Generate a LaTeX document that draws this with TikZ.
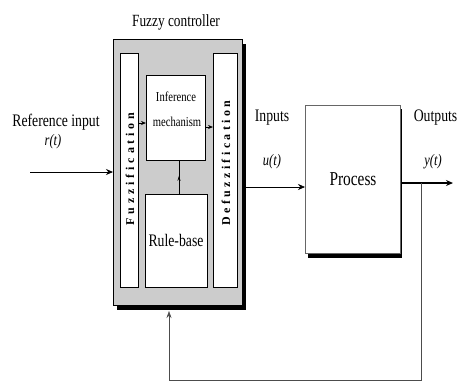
\documentclass[tikz,border=0pt]{standalone}
\usepackage{fontspec}
\usepackage{graphicx}
\setmainfont{Liberation Serif}
\usetikzlibrary{arrows.meta,decorations.markings}
\newcommand{\cnd}[1]{\scalebox{0.78}[1]{#1}}
\tikzset{
  lbl/.style={inner sep=0pt, font=\fontsize{17.6}{18}\selectfont},
  ital/.style={inner sep=0pt, font=\fontsize{16}{18}\selectfont\itshape},
  whitebox/.style={draw=black, line width=0.9pt, fill=white, inner sep=0pt, anchor=north west},
  strip/.style={whitebox},
  striptext/.style={inner sep=0pt, rotate=90},
  flow/.style={line width=0.8pt, -{Stealth[length=7pt,width=6pt]}},
  thin/.style={line width=0.6pt, draw=black!70},
  small/.style={line width=0.7pt, -{Stealth[length=5pt,width=4pt]}},
}
\begin{document}
\begin{tikzpicture}[x=1pt,y=-1pt]
\useasboundingbox (0,0) rectangle (458,384);
% controller
\fill[black] (117,44) rectangle (246,310);
\node[draw=black, line width=1pt, fill=black!20, minimum width=129pt, minimum height=266pt, inner sep=0pt, anchor=north west] (ctrl) at (113,39) {};
\node[lbl, font=\fontsize{17.1}{18}\selectfont] (title) at (176,22) {\cnd{Fuzzy controller}};
% strips
\node[strip, minimum width=18pt, minimum height=234pt] (fuzz) at (120,53) {};
\node[striptext, font=\fontsize{12}{12}\selectfont\bfseries\addfontfeature{LetterSpace=32}] (fuzzt) at (130,169) {Fuzzification};
\node[strip, minimum width=24pt, minimum height=234pt] (defuzz) at (213,53) {};
\node[striptext, font=\fontsize{12}{12}\selectfont\bfseries\addfontfeature{LetterSpace=28}] (defuzzt) at (226,163) {Defuzzification};
% inference
\node[whitebox, minimum width=59pt, minimum height=85pt] (inf) at (146,75) {};
\node[inner sep=0pt, font=\fontsize{13.6}{14}\selectfont] (inft1) at (176,97) {\cnd{Inference}};
\node[inner sep=0pt, font=\fontsize{13.6}{14}\selectfont] (inft2) at (177,122) {\cnd{mechanism}};
% rule base
\node[whitebox, minimum width=62pt, minimum height=93pt] (rb) at (145,194) {};
\node[lbl] (rbt) at (176,240) {\cnd{Rule-base}};
% internal arrows
\draw[small] (fuzz.east |- 0,123) -- (inf.west |- 0,123);
\draw[small] (inf.east |- 0,127) -- (defuzz.west |- 0,127);
\draw[line width=0.7pt, decoration={markings, mark=at position 0.55 with {\arrow{Stealth[length=5pt,width=3pt]}}}, postaction=decorate] (rb.north -| 179,0) -- (inf.south -| 179,0);
% process
\fill[black] (308,109) rectangle (402,258);
\node[draw=black!60, line width=0.8pt, fill=white, minimum width=95pt, minimum height=148pt, inner sep=0pt, anchor=north west] (proc) at (305,105) {};
\node[inner sep=0pt, font=\fontsize{19.7}{20}\selectfont] (proct) at (353,179) {\cnd{Process}};
% reference input
\node[lbl] (refl) at (56,122) {\cnd{Reference input}};
\node[ital] (reft) at (53,142) {\cnd{r(t)}};
\coordinate (refstart) at (30,172);
\draw[flow] (refstart) -- (ctrl.west |- refstart);
% inputs
\node[lbl] (inl) at (272,118) {\cnd{Inputs}};
\node[ital] (inu) at (272,162) {\cnd{u(t)}};
\draw[thin, draw=black, -{Stealth[length=7pt,width=6pt]}] (ctrl.east |- 0,187) -- (proc.west |- 0,187);
% outputs
\node[lbl, anchor=east] (outl) at (457.5,118) {\cnd{Outputs}};
\node[ital] (outy) at (433,162) {\cnd{y(t)}};
\coordinate (outend) at (453,183);
\draw[flow, line width=1.2pt] (proc.east |- outend) -- (outend);
% feedback
\coordinate (fb1) at (421,183);
\coordinate (fb2) at (421,380);
\coordinate (fb3) at (169,380);
\coordinate (fb4) at (169,311);
\draw[thin, -{Stealth[length=7pt,width=5pt]}] (fb1) -- (fb2) -- (fb3) -- (fb4);
\end{tikzpicture}
\end{document}
